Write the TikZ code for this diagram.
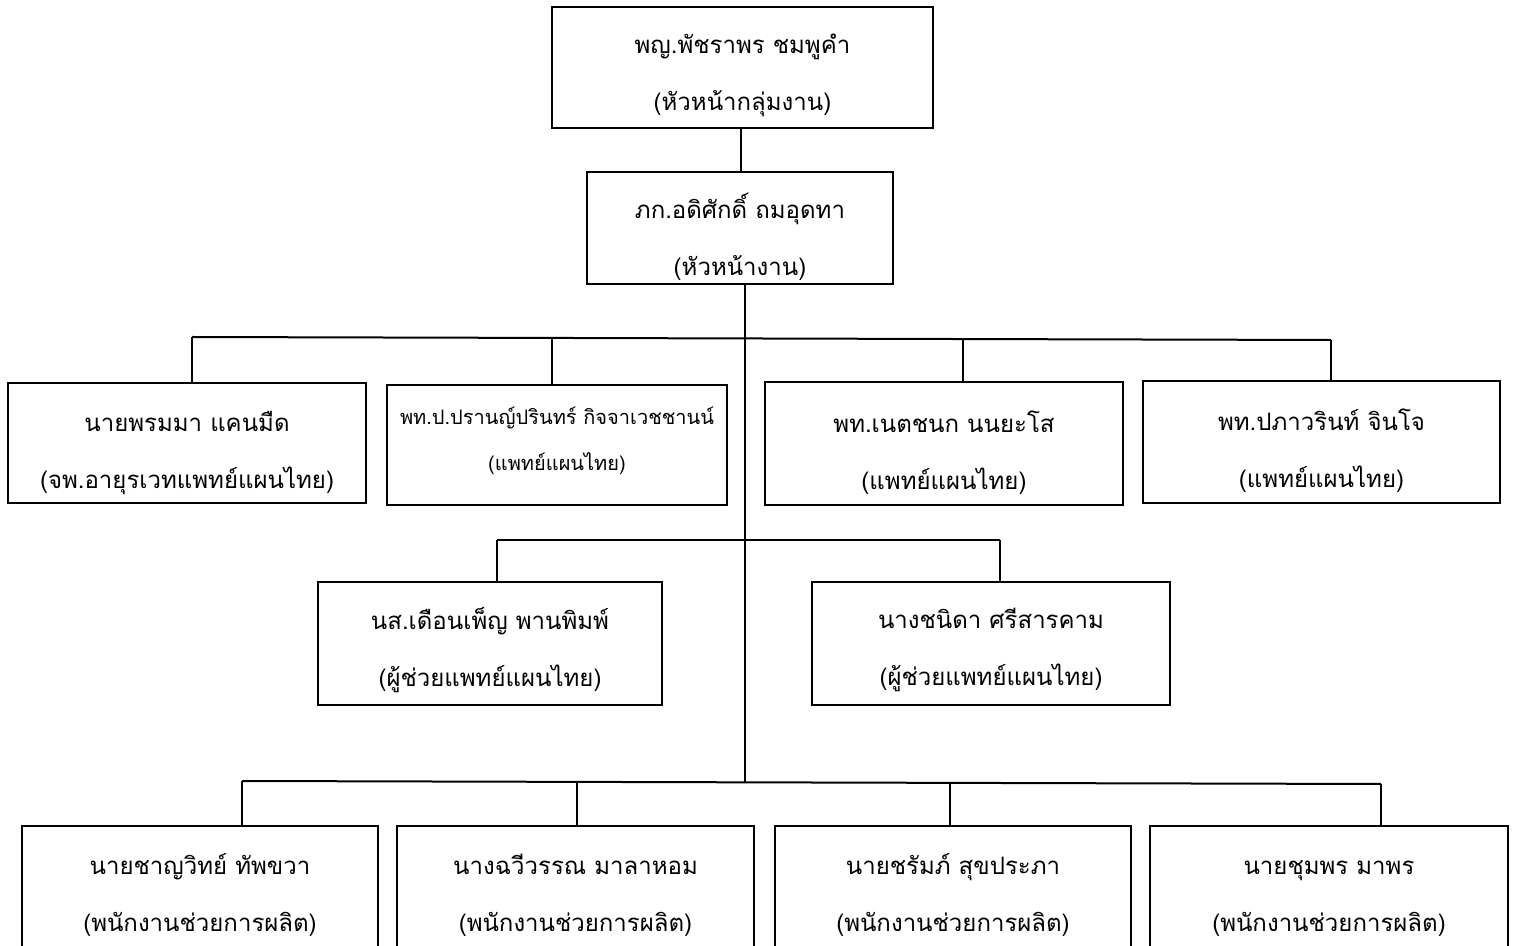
\documentclass[tikz,border=0pt]{standalone}
\usepackage{fontspec}
\newfontfamily\thai[Script=Thai]{Loma}
\begin{document}
\begin{tikzpicture}[x=0.5pt,y=-0.5pt,
  box/.style={draw,line width=1pt,inner sep=0pt},
  txt/.style={inner sep=0pt,align=center,font=\thai\fontsize{12}{28.5}\selectfont},
  smalltxt/.style={txt,font=\thai\fontsize{10}{23}\selectfont},
  conn/.style={line width=1pt}]
\useasboundingbox (0,0) rectangle (1517,946);
\clip (0,0) rectangle (1517,946);
% top
\node[box,minimum width=190.5pt,minimum height=60.5pt] (a) at (742.5,67.5) {};
\node[txt] (at) at ([yshift=-4pt]a.center) {พญ.พัชราพร ชมพูคำ\\(หัวหน้ากลุ่มงาน)};
\node[box,minimum width=153pt,minimum height=56pt] (b) at (740,228) {};
\node[txt] (bt) at ([yshift=-4.25pt]b.center) {ภก.อดิศักดิ์ ถมอุดทา\\(หัวหน้างาน)};
% row 1
\node[box,minimum width=179pt,minimum height=60pt] (c1) at (187,443) {};
\node[txt] (c1t) at ([yshift=-5pt]c1.center) {นายพรมมา แคนมืด\\(จพ.อายุรเวทแพทย์แผนไทย)};
\node[box,minimum width=170pt,minimum height=60pt] (c2) at (557,445) {};
\node[smalltxt] (c2t) at ([yshift=2pt]c2.center) {พท.ป.ปรานญ์ปรินทร์ กิจจาเวชชานน์\\(แพทย์แผนไทย)};
\node[box,minimum width=179pt,minimum height=61.5pt] (c3) at (944,443.5) {};
\node[txt] (c3t) at ([yshift=-4.5pt]c3.center) {พท.เนตชนก นนยะโส\\(แพทย์แผนไทย)};
\node[box,minimum width=178.5pt,minimum height=61pt] (c4) at (1321.5,442) {};
\node[txt] (c4t) at ([yshift=-4.5pt]c4.center) {พท.ปภาวรินท์ จินโจ\\(แพทย์แผนไทย)};
% row 2
\node[box,minimum width=172pt,minimum height=61.5pt] (d1) at (490,643.5) {};
\node[txt] (d1t) at ([yshift=-3.25pt]d1.center) {นส.เดือนเพ็ญ พานพิมพ์\\(ผู้ช่วยแพทย์แผนไทย)};
\node[box,minimum width=179pt,minimum height=61.5pt] (d2) at (991,643.5) {};
\node[txt] (d2t) at ([yshift=-3.25pt]d2.center) {นางชนิดา ศรีสารคาม\\(ผู้ช่วยแพทย์แผนไทย)};
% row 3
\node[box,minimum width=178pt,minimum height=67pt] (e1) at (200,893) {};
\node[txt] (e1t) at ([yshift=-1pt]e1.center) {นายชาญวิทย์ ทัพขวา\\(พนักงานช่วยการผลิต)};
\node[box,minimum width=178.5pt,minimum height=67pt] (e2) at (575.5,893) {};
\node[txt] (e2t) at ([yshift=-1pt]e2.center) {นางฉวีวรรณ มาลาหอม\\(พนักงานช่วยการผลิต)};
\node[box,minimum width=178pt,minimum height=67pt] (e3) at (953,893) {};
\node[txt] (e3t) at ([yshift=-1pt]e3.center) {นายชรัมภ์ สุขประภา\\(พนักงานช่วยการผลิต)};
\node[box,minimum width=179pt,minimum height=67pt] (e4) at (1329,893) {};
\node[txt] (e4t) at ([yshift=-3pt]e4.center) {นายชุมพร มาพร\\(พนักงานช่วยการผลิต)};
% connectors
\coordinate (ab) at (741,128);
\draw[conn] (ab |- a.south) -- (ab |- b.north);
\coordinate (t0) at (745,284);
\coordinate (t3) at (745,782);
\draw[conn] (t0 |- b.south) -- (t3);
% bus 1
\coordinate (p11) at (192,337);
\coordinate (p12) at (552,338);
\coordinate (p13) at (963,339);
\coordinate (p14) at (1331,340);
\draw[conn] (p11) -- (p14);
\draw[conn] (p11) -- (p11 |- c1.north);
\draw[conn] (p12) -- (p12 |- c2.north);
\draw[conn] (p13) -- (p13 |- c3.north);
\draw[conn] (p14) -- (p14 |- c4.north);
% bus 2
\coordinate (p21) at (497,540);
\coordinate (p22) at (1000,540);
\draw[conn] (p21) -- (p22);
\draw[conn] (p21) -- (p21 |- d1.north);
\draw[conn] (p22) -- (p22 |- d2.north);
% bus 3
\coordinate (p31) at (242,781);
\coordinate (p32) at (577,782);
\coordinate (p33) at (950,783);
\coordinate (p34) at (1381,784);
\draw[conn] (p31) -- (p34);
\draw[conn] (p31) -- (p31 |- e1.north);
\draw[conn] (p32) -- (p32 |- e2.north);
\draw[conn] (p33) -- (p33 |- e3.north);
\draw[conn] (p34) -- (p34 |- e4.north);
\end{tikzpicture}
\end{document}
